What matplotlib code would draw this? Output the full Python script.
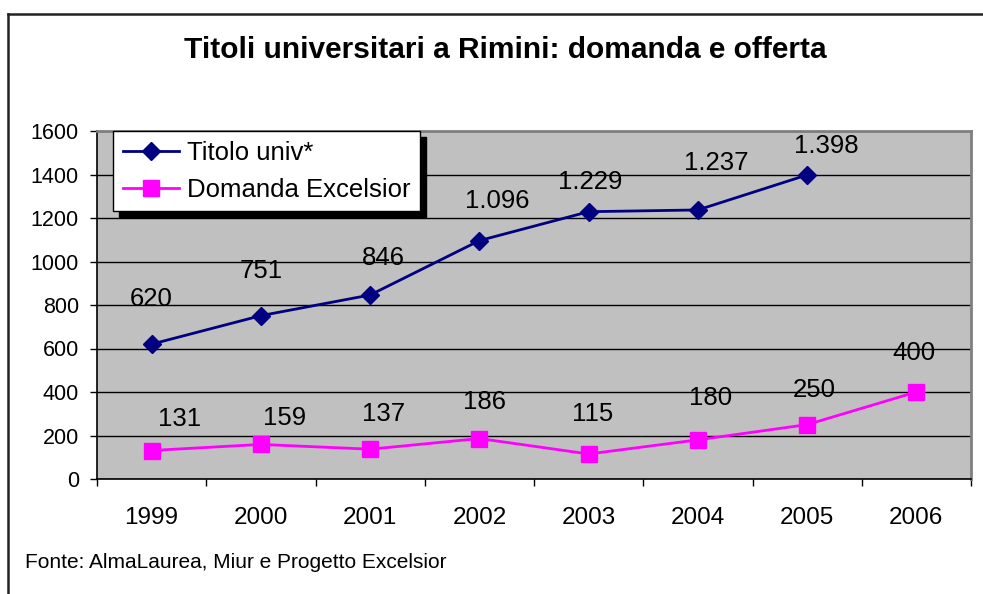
import matplotlib
matplotlib.use("Agg")
import matplotlib.pyplot as plt
from matplotlib.lines import Line2D

plt.rcParams['font.family'] = ['Liberation Sans', 'DejaVu Sans']

years = ["1999", "2000", "2001", "2002", "2003", "2004", "2005", "2006"]
titolo = [620, 751, 846, 1096, 1229, 1237, 1398]
domanda = [131, 159, 137, 186, 115, 180, 250, 400]
titolo_labels = ["620", "751", "846", "1.096", "1.229", "1.237", "1.398"]
domanda_labels = ["131", "159", "137", "186", "115", "180", "250", "400"]
yticks = [0, 200, 400, 600, 800, 1000, 1200, 1400, 1600]

# label offsets in pixels (dx, dy) relative to the point
titolo_off = [(0, 45), (0, 45), (13, 37), (18, 40), (2, 30), (18, 47), (19, 29)]
domanda_off = [(28, 32), (24, 26), (13, 35), (5, 37), (4, 40), (13, 42), (7, 35), (-2, 39)]

W, H = 983, 594
fig = plt.figure(figsize=(W / 100, H / 100), dpi=100)

# outer chart frame
fig.add_artist(Line2D([8 / W, 8 / W], [0, 1 - 14 / H], color='#222222', lw=1.8, transform=fig.transFigure))
fig.add_artist(Line2D([8 / W, 1], [1 - 14 / H, 1 - 14 / H], color='#222222', lw=1.8, transform=fig.transFigure))

ax = fig.add_axes([97 / W, (H - 479) / H, 874 / W, 348 / H])
ax.set_facecolor('#C0C0C0')
x1 = list(range(len(titolo)))
x2 = list(range(len(domanda)))
ax.plot(x1, titolo, color='#000080', lw=2, marker='D', ms=9.5, mfc='#000080', mec='#000080', zorder=3)
ax.plot(x2, domanda, color='#FF00FF', lw=2, marker='s', ms=11, mfc='#FF00FF', mec='#FF00FF', zorder=3)

for xi, v, lab, (dx, dy) in zip(x1, titolo, titolo_labels, titolo_off):
    ax.annotate(lab, (xi, v), xytext=(dx * 0.72, dy * 0.72), textcoords='offset points',
                ha='center', va='center', fontsize=18.5, color='black', zorder=4)
for xi, v, lab, (dx, dy) in zip(x2, domanda, domanda_labels, domanda_off):
    ax.annotate(lab, (xi, v), xytext=(dx * 0.72, dy * 0.72), textcoords='offset points',
                ha='center', va='center', fontsize=18.5, color='black', zorder=4)

ax.set_xlim(-0.5, len(years) - 0.5)
ax.set_ylim(0, 1600)
ax.set_yticks(yticks)
ax.set_yticklabels([str(t) for t in yticks], fontsize=15.5)
ax.set_xticks(range(len(years)))
ax.set_xticklabels(years, fontsize=17.5)
ax.set_xticks([i - 0.5 for i in range(len(years) + 1)], minor=True)
ax.tick_params(axis='x', which='major', length=0, pad=20)
ax.tick_params(axis='x', which='minor', length=5, width=1, color='black')
ax.tick_params(axis='y', which='major', length=5, width=1, color='black', pad=8)
ax.yaxis.grid(True, color='black', lw=1)
ax.set_axisbelow(True)
for s in ['top', 'right']:
    ax.spines[s].set_color('#808080')
    ax.spines[s].set_linewidth(2)
for s in ['left', 'bottom']:
    ax.spines[s].set_color('black')
    ax.spines[s].set_linewidth(1.2)

# legend
handles = [Line2D([], [], color='#000080', lw=2, marker='D', ms=9.5),
           Line2D([], [], color='#FF00FF', lw=2, marker='s', ms=11)]
leg = ax.legend(handles, ["Titolo univ*", "Domanda Excelsior"], loc='upper left',
                bbox_to_anchor=((113 - 97) / 874, 1.0), fontsize=18.5, frameon=True,
                fancybox=False, shadow={'color': 'black', 'alpha': 1, 'ox': 4, 'oy': -4},
                borderpad=0.38, handlelength=2.2, handletextpad=0.3, labelspacing=0.5,
                borderaxespad=0)
leg.get_frame().set_edgecolor('black')
leg.get_frame().set_linewidth(1)
leg.get_frame().set_facecolor('white')

fig.text(505 / W, 1 - 50 / H, "Titoli universitari a Rimini: domanda e offerta",
         ha='center', va='center', fontsize=21.5, fontweight='bold')
fig.text(25 / W, 1 - 562 / H, "Fonte: AlmaLaurea, Miur e Progetto Excelsior",
         ha='left', va='center', fontsize=15)

fig.savefig('out.png', dpi=100)
